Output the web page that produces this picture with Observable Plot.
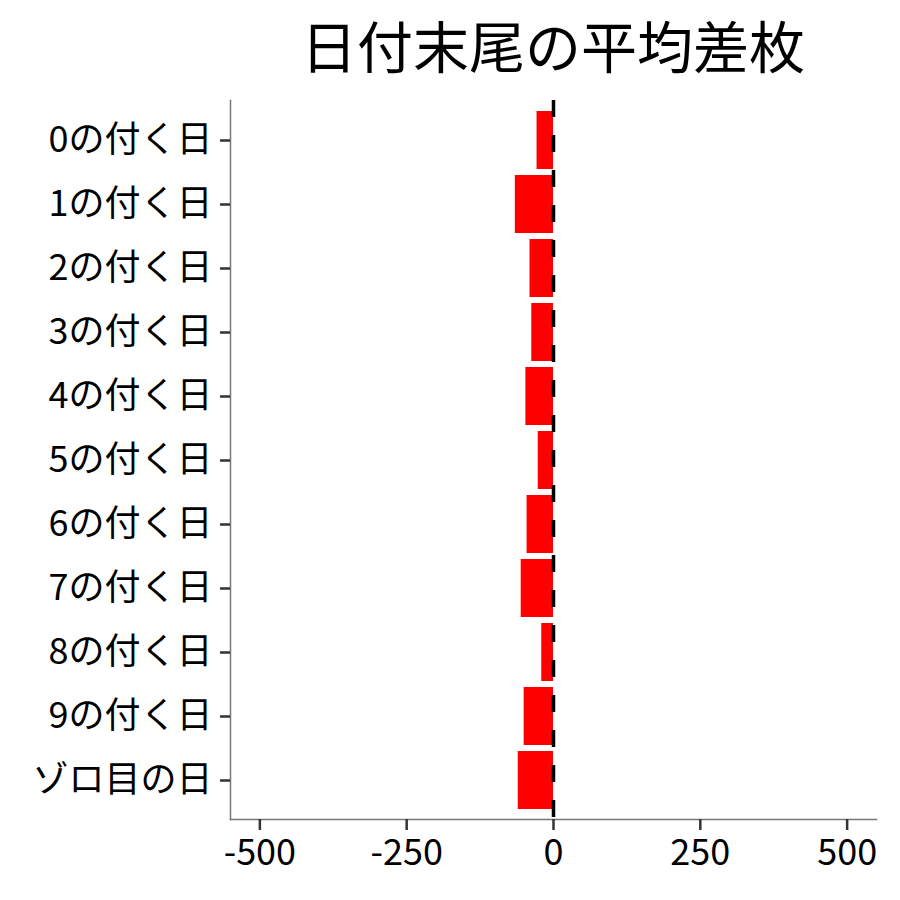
<!DOCTYPE html>
<html><head><meta charset="utf-8">
<script src="https://cdn.jsdelivr.net/npm/d3@7"></script>
<script src="https://cdn.jsdelivr.net/npm/@observablehq/plot@0.6"></script>
<style>
body{margin:0;background:#fff;}
#title{box-sizing:border-box;width:900px;height:90px;padding-left:230px;padding-right:24px;text-align:center;font-family:"Noto Sans CJK JP";font-size:56px;line-height:88px;color:#000;white-space:nowrap;}
</style></head><body>
<div id="title">日付末尾の平均差枚</div>
<div id="chart"></div>
<script>
const categories = ["0の付く日","1の付く日","2の付く日","3の付く日","4の付く日","5の付く日","6の付く日","7の付く日","8の付く日","9の付く日","ゾロ目の日"];
const values = [-28,-65,-40,-37,-47,-26,-45,-55,-20,-50,-60];
const xTicks = [-500,-250,0,250,500];
const xDomain = [-550,550];
const refLine = [0];
const data = categories.map((c,i)=>({day:c, diff:values[i]}));
const chart = Plot.plot({
  width:900, height:810,
  marginTop:10, marginBottom:81, marginLeft:230, marginRight:24,
  style:{fontFamily:"Noto Sans CJK JP", fontSize:"36px", color:"#000", background:"#fff"},
  x:{domain:xDomain, label:null},
  y:{domain:categories, label:null, paddingInner:0.1, paddingOuter:0.15},
  marks:[
    Plot.barX(data,{x:"diff", y:"day", fill:"#FF0000"}),
    Plot.ruleX(refLine,{stroke:"#000", strokeWidth:3.5, strokeDasharray:"17,18"}),
    Plot.frame({anchor:"bottom", stroke:"#777", strokeWidth:1.5}),
    Plot.frame({anchor:"left", stroke:"#777", strokeWidth:1.5}),
    Plot.axisX({ticks:xTicks, tickFormat:d=>`${d}`, tickSize:11, tickPadding:9, stroke:"#333", strokeWidth:2.5, fill:"#000", fontSize:36, label:null}),
    Plot.axisY({tickSize:10, tickPadding:8, stroke:"#333", strokeWidth:2.5, fill:"#000", fontSize:36, label:null})
  ]
});
document.getElementById("chart").appendChild(chart);
</script>
</body></html>
